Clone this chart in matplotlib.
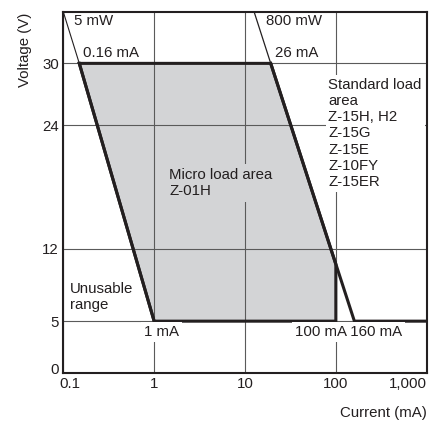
import numpy as np
import matplotlib

matplotlib.use("Agg")
import matplotlib.pyplot as plt
from matplotlib.transforms import ScaledTranslation

plt.rcParams["font.family"] = ["Liberation Sans", "DejaVu Sans"]
plt.rcParams["font.size"] = 10.8

# Axis ticks
current_ticks = [0.1, 1, 10, 100, 1000]
current_tick_labels = ["0.1", "1", "10", "100", "1,000"]
voltage_ticks = [0, 5, 12, 24, 30]

# 5 mW boundary (current in mA, voltage in V)
line_5mw_current = [0.1, 0.15, 1]
line_5mw_voltage = [35, 30, 5]

# 800 mW boundary, then flat at 5 V
line_800mw_current = [12.6, 19.2, 160, 1000]
line_800mw_voltage = [35, 30, 5, 5]

# Micro load area outline
micro_current = [0.15, 19.2, 100, 100, 1]
micro_voltage = [30, 30, 10.5, 5, 5]

INK = "#231f20"
GRID = "#5a5a5a"
FILL = "#d3d4d6"
THICK = 2.2


def setup_axes(fig):
    ax = fig.add_axes([0.1419, 0.1168, 0.8148, 0.8552])
    ax.set_xscale("log")
    ax.set_xlim(0.1, 1000)
    ax.set_ylim(0, 35)

    ax.set_xticks(current_ticks)
    ax.set_xticklabels(current_tick_labels)
    ax.xaxis.set_minor_locator(matplotlib.ticker.NullLocator())
    ax.set_yticks(voltage_ticks)
    ax.tick_params(length=0, colors=INK, labelsize=10.8)
    ax.tick_params(axis="x", pad=3)
    ax.tick_params(axis="y", pad=3)

    # first / last labels nudged like the original
    xlabels = ax.get_xticklabels()
    xlabels[0].set_transform(
        xlabels[0].get_transform() + ScaledTranslation(5 / 72, 0, fig.dpi_scale_trans)
    )
    xlabels[-1].set_horizontalalignment("right")
    ylabels = ax.get_yticklabels()
    ylabels[0].set_transform(
        ylabels[0].get_transform() + ScaledTranslation(0, 3 / 72, fig.dpi_scale_trans)
    )

    for spine in ax.spines.values():
        spine.set_linewidth(1.5)
        spine.set_color(INK)
        spine.set_zorder(5)

    ax.grid(True, which="major", color=GRID, linewidth=0.8, zorder=1.5)
    ax.set_axisbelow(False)
    for gl in ax.get_xgridlines() + ax.get_ygridlines():
        gl.set_zorder(1.5)
    return ax


def draw_areas(ax):
    ax.fill(micro_current, micro_voltage, color=FILL, zorder=1, linewidth=0)
    ax.fill(
        micro_current, micro_voltage, fill=False, edgecolor=INK,
        linewidth=THICK, joinstyle="miter", zorder=3,
    )

    # thin parts above 30 V, thick below
    ax.plot(line_5mw_current[:2], line_5mw_voltage[:2], color=INK, lw=0.8, zorder=3)
    ax.plot(line_5mw_current[1:], line_5mw_voltage[1:], color=INK, lw=THICK, zorder=3)
    ax.plot(line_800mw_current[:2], line_800mw_voltage[:2], color=INK, lw=0.9, zorder=3)
    ax.plot(
        line_800mw_current[1:], line_800mw_voltage[1:], color=INK,
        lw=THICK, solid_joinstyle="miter", zorder=3,
    )


def draw_labels(ax):
    white = dict(facecolor="white", edgecolor="none", pad=2)
    grey = dict(facecolor=FILL, edgecolor="none", pad=3)

    ax.text(0.131, 34.1, "5 mW", va="center", color=INK, zorder=4)
    ax.text(0.166, 31.05, "0.16 mA", va="center", color=INK, zorder=4)
    ax.text(17.1, 34.1, "800 mW", va="center", color=INK, zorder=4)
    ax.text(21.4, 31.05, "26 mA", va="center", color=INK, zorder=4)
    ax.text(
        82.8, 23.2,
        "Standard load\narea\nZ-15H, H2\nZ-15G\nZ-15E\nZ-10FY\nZ-15ER",
        va="center", linespacing=1.2, color=INK, bbox=white, zorder=4,
    )
    ax.text(
        1.47, 18.4, "Micro load area\nZ-01H",
        va="center", linespacing=1.2, color=INK, bbox=grey, zorder=4,
    )
    ax.text(
        0.1185, 7.34, "Unusable\nrange",
        va="center", linespacing=1.25, color=INK, zorder=4,
    )
    ax.text(0.775, 3.95, "1 mA", va="center", color=INK, bbox=white, zorder=4)
    ax.text(35.6, 3.92, "100 mA 160 mA", va="center", color=INK, bbox=white, zorder=4)

    ax.text(
        -0.105, 0.997, "Voltage (V)", rotation=90, ha="center", va="top",
        transform=ax.transAxes, color=INK,
    )
    ax.text(
        1.0, -0.1125, "Current (mA)", ha="right", va="center",
        transform=ax.transAxes, color=INK,
    )


def main():
    fig = plt.figure(figsize=(4.46, 4.22), dpi=100)
    ax = setup_axes(fig)
    draw_areas(ax)
    draw_labels(ax)
    fig.savefig("out.png", dpi=100)


if __name__ == "__main__":
    main()
